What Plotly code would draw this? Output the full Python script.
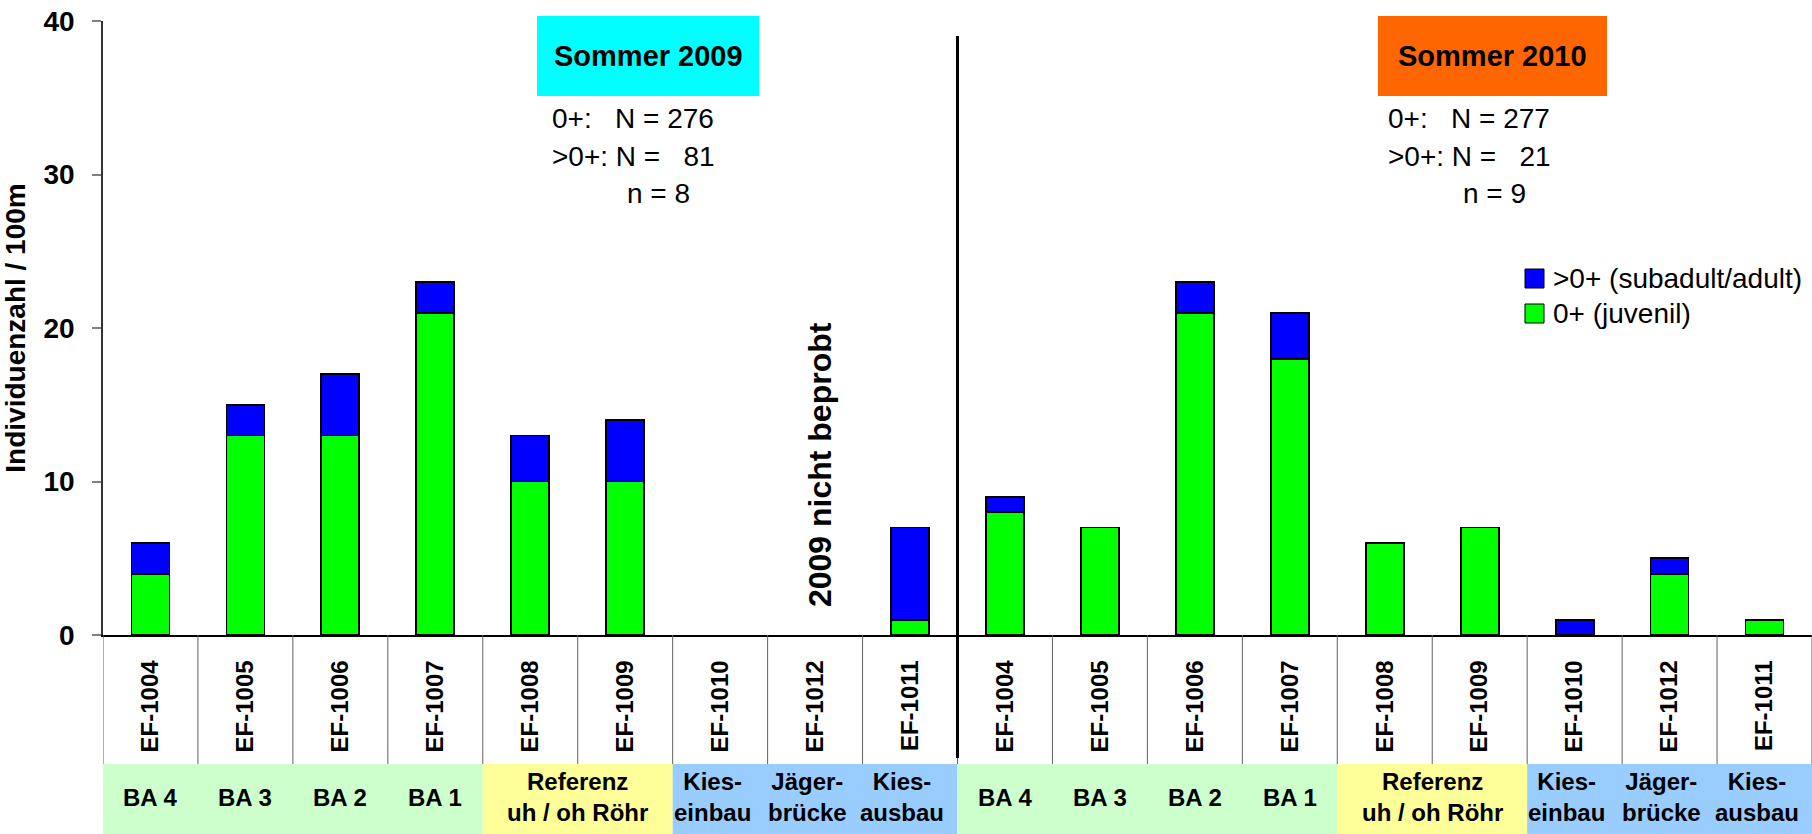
import plotly.graph_objects as go

# Sampling sites (same order in both summers)
sites = ["EF-1004", "EF-1005", "EF-1006", "EF-1007", "EF-1008",
         "EF-1009", "EF-1010", "EF-1012", "EF-1011"]

# Individuals per 100 m
juv_2009 = [4, 13, 13, 21, 10, 10, None, None, 1]    # 0+ (juvenil)
sub_2009 = [2, 2, 4, 2, 3, 4, None, None, 6]         # >0+ (subadult/adult)
juv_2010 = [8, 7, 21, 18, 6, 7, 0, 4, 1]
sub_2010 = [1, 0, 2, 3, 0, 0, 1, 1, 0]

# Section labels underneath the site labels
section_labels = ["BA 4", "BA 3", "BA 2", "BA 1", "Referenz<br>uh / oh Röhr",
                  "Kies-<br>einbau", "Jäger-<br>brücke", "Kies-<br>ausbau"]
section_pos = [0, 1, 2, 3, 4.5, 6, 7, 8]
# Coloured background bands: (first site, last site, colour)
bands = [(0, 3, "#ccffcc"), (4, 5, "#ffff99"), (6, 8, "#99ccff")]

season_titles = ["Sommer 2009", "Sommer 2010"]
season_colors = ["#00ffff", "#ff6600"]
season_stats = [["0+:\u00a0\u00a0\u00a0N = 276", ">0+: N =\u00a0\u00a0\u00a081", "n = 8"],
                ["0+:\u00a0\u00a0\u00a0N = 277", ">0+: N =\u00a0\u00a0\u00a021", "n = 9"]]

legend_names = [">0+ (subadult/adult)", "0+ (juvenil)"]
green, blue = "#00ff00", "#0000ff"

FONT = "Arial, 'Liberation Sans', sans-serif"

# page geometry (pixels) and helpers to turn pixels into paper coordinates
W, H = 1812, 834
L, R, T, B = 103, 0, 21, 199
PW, PH = W - L - R, H - T - B


def px(x):
    return (x - L) / PW


def py(y):
    return (H - B - y) / PH


n = len(sites)
xpos = list(range(2 * n))
ticktext = sites + sites
juv = juv_2009 + juv_2010
sub = sub_2009 + sub_2010

fig = go.Figure()
fig.add_trace(go.Bar(x=xpos, y=juv, width=0.4, name=legend_names[1],
                     marker=dict(color=green, line=dict(color="black", width=1.8)),
                     showlegend=False))
fig.add_trace(go.Bar(x=xpos, y=sub, width=0.4, name=legend_names[0],
                     marker=dict(color=blue, line=dict(color="black", width=1.8)),
                     showlegend=False))

shapes = []
annotations = []

# background bands and section labels under the axis
for half in range(2):
    off = half * n
    for a, b, col in bands:
        shapes.append(dict(type="rect", xref="x", yref="paper",
                           x0=a + off - 0.5, x1=b + off + 0.5,
                           y0=py(834), y1=py(764),
                           fillcolor=col, line=dict(width=0), layer="below"))
    for lab, p in zip(section_labels, section_pos):
        two = "<br>" in lab
        annotations.append(dict(xref="x", yref="paper", x=p + off,
                                y=py(797), text=lab, showarrow=False,
                                xanchor="center", yanchor="middle",
                                xshift=-8 if (two and p >= 6) else 0,
                                font=dict(family=FONT, size=24, color="black",
                                          weight="bold")))

# cell boundaries between the site labels
for i in range(2 * n + 1):
    shapes.append(dict(type="line", xref="x", yref="paper",
                       x0=i - 0.5, x1=i - 0.5, y0=py(635), y1=py(764),
                       line=dict(color="#606060", width=1)))

# separator between the two summers
shapes.append(dict(type="line", xref="x", yref="paper", x0=n - 0.5, x1=n - 0.5,
                   y0=py(758), y1=py(36), line=dict(color="black", width=3)))

# season boxes and sample statistics
box_x = [(537, 759), (1378, 1607)]
stat_x = [550, 1386]
for k in range(2):
    x0, x1 = box_x[k]
    shapes.append(dict(type="rect", xref="paper", yref="paper",
                       x0=px(x0), x1=px(x1), y0=py(96), y1=py(16),
                       fillcolor=season_colors[k], line=dict(width=0)))
    annotations.append(dict(xref="paper", yref="paper", x=px((x0 + x1) / 2),
                            y=py(56), text=season_titles[k], showarrow=False,
                            xanchor="center", yanchor="middle",
                            font=dict(family=FONT, size=29, color="black",
                                      weight="bold")))
    for j, (line, yc) in enumerate(zip(season_stats[k], [119, 156, 193])):
        annotations.append(dict(xref="paper", yref="paper",
                                x=px(stat_x[k] + (75 if j == 2 else 0)),
                                y=py(yc), text=line, showarrow=False,
                                xanchor="left", yanchor="middle",
                                font=dict(family=FONT, size=28, color="black")))

# note for the sites not sampled in 2009
annotations.append(dict(xref="x", yref="paper", x=7, xshift=5, y=py(465),
                        text="2009 nicht beprobt", textangle=-90, showarrow=False,
                        xanchor="center", yanchor="middle",
                        font=dict(family=FONT, size=32, color="black",
                                  weight="bold")))

# legend
for (name, col, ytop) in [(legend_names[0], blue, 269), (legend_names[1], green, 304)]:
    shapes.append(dict(type="rect", xref="paper", yref="paper",
                       x0=px(1525), x1=px(1544), y0=py(ytop + 19), y1=py(ytop),
                       fillcolor=col, line=dict(color="black", width=1)))
    annotations.append(dict(xref="paper", yref="paper", x=px(1551),
                            y=py(ytop + 9.5), text=name, showarrow=False,
                            xanchor="left", yanchor="middle",
                            font=dict(family=FONT, size=28, color="black")))

fig.update_layout(
    width=W, height=H,
    margin=dict(l=L, r=R, t=T, b=B, pad=0),
    paper_bgcolor="white", plot_bgcolor="white",
    barmode="stack", bargap=0.6,
    font=dict(family=FONT, color="black"),
    shapes=shapes, annotations=annotations,
    xaxis=dict(range=[-0.5, 2 * n - 0.5], tickmode="array", tickvals=xpos,
               ticktext=ticktext, tickangle=-90, ticks="",
               ticklabelstandoff=14,
               tickfont=dict(family=FONT, size=24, color="black", weight="bold"),
               showline=True, linecolor="black", linewidth=1.5,
               showgrid=False, zeroline=False, fixedrange=True),
    yaxis=dict(range=[0, 40], tickmode="array", tickvals=[0, 10, 20, 30, 40],
               ticks="outside", ticklen=9, tickwidth=1.5, tickcolor="#808080",
               ticklabelstandoff=12,
               tickfont=dict(family=FONT, size=28, color="black", weight="bold"),
               showline=True, linecolor="#333333", linewidth=1.5,
               showgrid=False, zeroline=False,
               title=dict(text="Individuenzahl / 100m", standoff=12,
                          font=dict(family=FONT, size=28, color="black",
                                    weight="bold"))),
)

fig.write_html("out.html")
